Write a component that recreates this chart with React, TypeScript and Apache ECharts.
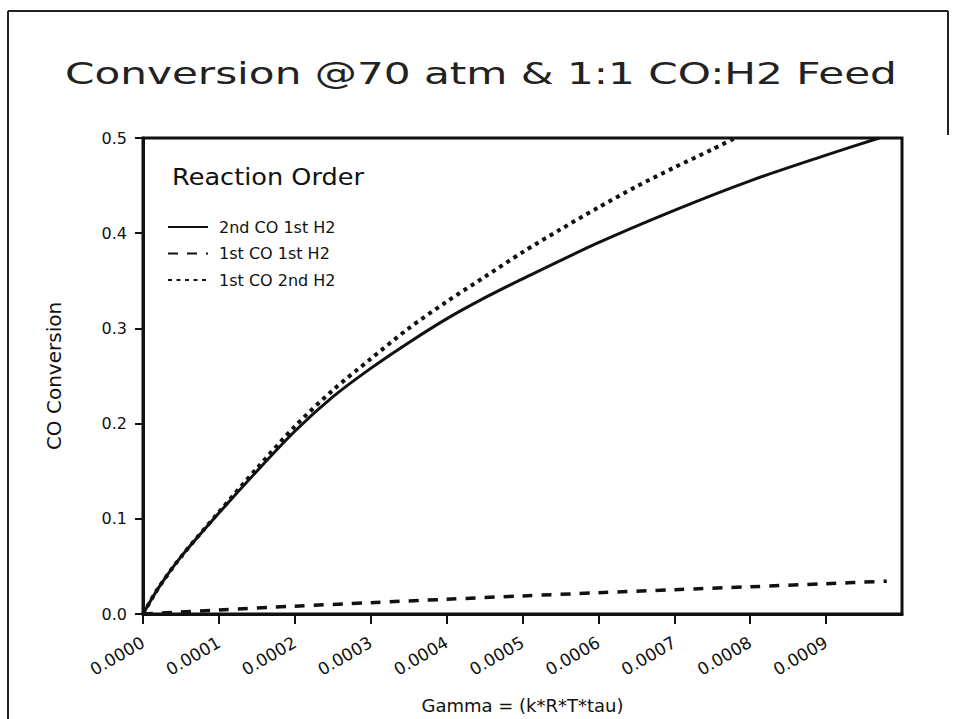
import React, { useEffect, useRef } from "react";
import * as echarts from "echarts";

const titleText = "Conversion @70 atm & 1:1 CO:H2 Feed";
const legendTitle = "Reaction Order";
const seriesNames = ["2nd CO 1st H2", "1st CO 1st H2", "1st CO 2nd H2"];
const xAxisName = "Gamma = (k*R*T*tau)";
const yAxisName = "CO Conversion";

const xTicks = [0, 0.0001, 0.0002, 0.0003, 0.0004, 0.0005, 0.0006, 0.0007, 0.0008, 0.0009];
const yTicks = [0, 0.1, 0.2, 0.3, 0.4, 0.5];

// 2nd CO 1st H2 (solid)
const solidX = [0, 0.00002, 0.00005, 0.0001, 0.00015, 0.0002, 0.00025, 0.0003, 0.00035, 0.0004, 0.00045, 0.0005, 0.0006, 0.0007, 0.0008, 0.0009, 0.00097];
const solidY = [0, 0.027, 0.06, 0.106, 0.15, 0.192, 0.228, 0.258, 0.285, 0.31, 0.332, 0.352, 0.39, 0.424, 0.455, 0.482, 0.5];

// 1st CO 1st H2 (dashed)
const dashX = [0, 0.0001, 0.0002, 0.0003, 0.0004, 0.0005, 0.0006, 0.0007, 0.0008, 0.0009, 0.00098];
const dashY = [0, 0.0042, 0.0082, 0.0119, 0.0155, 0.019, 0.0223, 0.0255, 0.0286, 0.0318, 0.0345];

// 1st CO 2nd H2 (dotted)
const dotX = [0, 0.00002, 0.00005, 0.0001, 0.00015, 0.0002, 0.00025, 0.0003, 0.00035, 0.0004, 0.00045, 0.0005, 0.00055, 0.0006, 0.00065, 0.0007, 0.00075, 0.00078];
const dotY = [0, 0.027, 0.06, 0.107, 0.153, 0.197, 0.235, 0.268, 0.3, 0.328, 0.354, 0.38, 0.404, 0.427, 0.449, 0.469, 0.488, 0.5];

const zip = (xs: number[], ys: number[]) => xs.map((x, i) => [x, ys[i]]);

const FONT = "DejaVu Sans, sans-serif";

function measure(text: string, font: string): number {
  try {
    const ctx = document.createElement("canvas").getContext("2d");
    if (ctx) {
      ctx.font = font;
      return ctx.measureText(text).width;
    }
  } catch (e) {}
  return 0;
}

export default function App() {
  const ref = useRef<HTMLDivElement>(null);
  useEffect(() => {
    if (!ref.current) return;
    const chart = echarts.init(ref.current, undefined, { renderer: "svg" });

    const titleFont = `normal 31px ${FONT}`;
    const tw = measure(titleText, titleFont);
    const titleScale = tw > 0 ? 832 / tw : 1;

    const legFont = `normal 23px ${FONT}`;
    const lw = measure(legendTitle, legFont);
    const legScale = lw > 0 ? 192 / lw : 1;

    const black = "#111";
    chart.setOption({
      animation: false,
      backgroundColor: "#fff",
      grid: {
        left: 143,
        right: 55,
        top: 138,
        bottom: 97,
        show: true,
        borderColor: black,
        borderWidth: 3,
      },
      legend: {
        orient: "vertical",
        left: 162,
        top: 214,
        itemWidth: 40,
        itemHeight: 14,
        itemGap: 10.5,
        data: seriesNames,
        itemStyle: { opacity: 0 },
        textStyle: { fontFamily: FONT, fontSize: 16, color: black, padding: [0, 0, 0, 6] },
      },
      xAxis: {
        type: "value",
        min: 0,
        max: 0.001,
        interval: 0.0001,
        name: xAxisName,
        nameLocation: "middle",
        nameGap: 82,
        nameTextStyle: { fontFamily: FONT, fontSize: 18, color: black },
        axisLine: { show: true, lineStyle: { color: black, width: 3 } },
        axisTick: { show: true, length: 10, lineStyle: { color: black, width: 2 }, customValues: xTicks },
        splitLine: { show: false },
        axisLabel: {
          customValues: xTicks,
          rotate: 30,
          margin: 27,
          fontFamily: FONT,
          fontSize: 17,
          color: black,
          formatter: (v: number) => v.toFixed(4),
        },
      },
      yAxis: {
        type: "value",
        min: 0,
        max: 0.5,
        interval: 0.1,
        name: yAxisName,
        nameLocation: "middle",
        nameGap: 79,
        nameRotate: 90,
        nameTextStyle: { fontFamily: FONT, fontSize: 20, color: black },
        axisLine: { show: true, lineStyle: { color: black, width: 3 } },
        axisTick: { show: true, length: 8, lineStyle: { color: black, width: 2 }, customValues: yTicks },
        splitLine: { show: false },
        axisLabel: {
          customValues: yTicks,
          margin: 16,
          fontFamily: FONT,
          fontSize: 16,
          color: black,
          formatter: (v: number) => v.toFixed(1),
        },
      },
      series: [
        {
          name: seriesNames[0],
          type: "line",
          data: zip(solidX, solidY),
          smooth: 0.3,
          symbol: "none",
          lineStyle: { color: black, width: 3, type: "solid" },
        },
        {
          name: seriesNames[1],
          type: "line",
          data: zip(dashX, dashY),
          smooth: 0.3,
          symbol: "none",
          lineStyle: { color: black, width: 3.5, type: [10, 9] },
        },
        {
          name: seriesNames[2],
          type: "line",
          data: zip(dotX, dotY),
          smooth: 0.3,
          symbol: "none",
          lineStyle: { color: black, width: 4, type: [4, 4.5] },
        },
      ],
      graphic: [
        {
          type: "line",
          shape: { x1: 8, y1: 11, x2: 948, y2: 11 },
          style: { stroke: "#222", lineWidth: 2 },
        },
        {
          type: "line",
          shape: { x1: 8, y1: 11, x2: 8, y2: 719 },
          style: { stroke: "#222", lineWidth: 2 },
        },
        {
          type: "line",
          shape: { x1: 948, y1: 11, x2: 948, y2: 135 },
          style: { stroke: "#222", lineWidth: 2 },
        },
        {
          type: "text",
          x: 65,
          y: 74,
          scaleX: titleScale,
          style: {
            text: titleText,
            font: titleFont,
            fill: "#222",
            align: "left",
            verticalAlign: "middle",
          },
        },
        {
          type: "text",
          x: 172,
          y: 177,
          scaleX: legScale,
          style: {
            text: legendTitle,
            font: legFont,
            fill: black,
            align: "left",
            verticalAlign: "middle",
          },
        },
      ],
    });
    return () => chart.dispose();
  }, []);
  return (
    <div
      ref={ref}
      style={{ position: "fixed", left: 0, top: 0, width: 957, height: 719 }}
    />
  );
}
